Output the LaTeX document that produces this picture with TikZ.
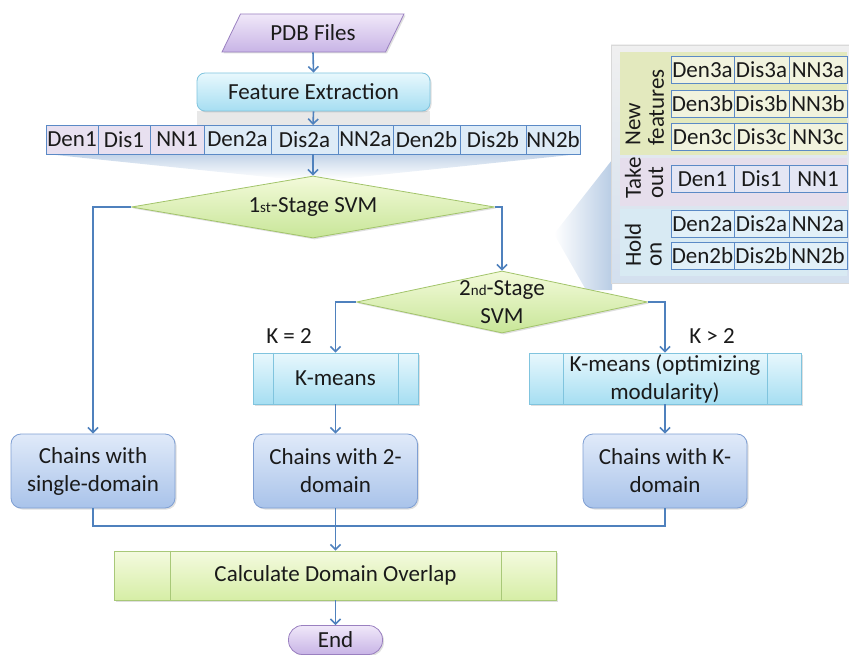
\documentclass[tikz,border=0pt]{standalone}
\usepackage{fontspec}
\setmainfont{Carlito}
\usetikzlibrary{shapes.geometric,arrows.meta,calc,shadows}
\definecolor{arrowc}{HTML}{4F81BD}
\definecolor{cellb}{HTML}{5B8AC6}
\definecolor{lavc}{HTML}{E8E0F0}
\definecolor{lbc}{HTML}{DDEBF7}
\definecolor{chtop}{HTML}{E0EAF9}
\definecolor{chbot}{HTML}{A9C3EA}
\definecolor{chbd}{HTML}{7F9FD3}
\definecolor{cytop}{HTML}{E8F8FD}
\definecolor{cybot}{HTML}{A6DEF2}
\definecolor{cybd}{HTML}{80C4DE}
\definecolor{grtop}{HTML}{F3FADA}
\definecolor{grbot}{HTML}{C8E698}
\definecolor{grbd}{HTML}{A2C46A}
\definecolor{catop}{HTML}{F4FADF}
\definecolor{cabot}{HTML}{D6EEA6}
\definecolor{cabd}{HTML}{A8C878}
\definecolor{putop}{HTML}{F0E8F9}
\definecolor{pubot}{HTML}{C8B4E6}
\definecolor{pubd}{HTML}{9A80C0}
\definecolor{txt}{HTML}{1A1A1A}
\definecolor{nfsec}{HTML}{E3E9BE}
\definecolor{tosec}{HTML}{E6DEEC}
\definecolor{hosec}{HTML}{D8EAF3}
\definecolor{nfcell}{HTML}{F1F3DE}
\definecolor{tocell}{HTML}{E4E6F4}
\definecolor{hocell}{HTML}{E2F0F8}
\newcommand\ordsuf[1]{{\fontsize{15}{15}\selectfont #1}}
\begin{document}
\begin{tikzpicture}[x=1pt,y=-1pt,
  font=\fontsize{23}{28}\selectfont, text=txt,
  shd/.style={drop shadow={shadow xshift=1.5pt,shadow yshift=-1.5pt,opacity=0.25}},
  flow/.style={draw=arrowc,line width=1.6pt,-{Straight Barb[length=5pt,width=10pt]}},
  link/.style={draw=arrowc,line width=1.6pt},
  chainbox/.style={draw=chbd,line width=0.8pt,rounded corners=10pt,top color=chtop,bottom color=chbot,
    minimum width=164pt,minimum height=74pt,align=center,inner sep=0pt,shd},
  procbox/.style={draw=cybd,line width=0.8pt,top color=cytop,bottom color=cybot,
    minimum height=51pt,align=center,inner sep=0pt,shd},
  decision/.style={diamond,draw=grbd,line width=0.8pt,top color=grtop,bottom color=grbot,inner sep=0pt,shd},
  rowcell/.style={draw=cellb,line width=0.8pt,minimum height=29pt,inner sep=0pt},
  pcell/.style={draw=cellb,line width=0.8pt,minimum height=27pt,inner sep=0pt},
  vlabel/.style={rotate=90,anchor=west,inner sep=0pt}
]
\useasboundingbox (0,0) rectangle (849,655);

% shading effects
\fill[gray!18] (197,111) rectangle (430,125);
\shade[top color=arrowc!35,bottom color=white] (46,154) -- (580,154) -- (340,179) -- (287,179) -- cycle;
\shade[left color=white,right color=arrowc!40] (554,234) -- (612,160) -- (612,290) -- (586,290) -- cycle;

% PDB Files
\node[trapezium,trapezium left angle=56,trapezium right angle=124,trapezium stretches=true,
  minimum width=182pt,minimum height=38pt,draw=pubd,line width=0.8pt,top color=putop,bottom color=pubot,inner sep=0pt,shd]
  (pdb) at (313,33) {PDB Files};

% Feature Extraction
\node[draw=cybd,line width=0.8pt,rounded corners=8pt,top color=cytop,bottom color=cybot,
  minimum width=233pt,minimum height=38pt,inner sep=0pt,shd] (fe) at (313.5,92) {Feature Extraction};

% Feature row
\node[rowcell,fill=lavc,minimum width=52pt] (r1) at (72,139.5) {Den1};
\node[rowcell,fill=lavc,minimum width=52pt] (r2) at (124,139.5) {Dis1};
\node[rowcell,fill=lavc,minimum width=54pt] (r3) at (177,139.5) {NN1};
\node[rowcell,fill=lbc,minimum width=67pt] (r4) at (237.5,139.5) {Den2a};
\node[rowcell,fill=lbc,minimum width=67pt] (r5) at (304.5,139.5) {Dis2a};
\node[rowcell,fill=lbc,minimum width=55pt] (r6) at (365.5,139.5) {NN2a};
\node[rowcell,fill=lbc,minimum width=67pt] (r7) at (426.5,139.5) {Den2b};
\node[rowcell,fill=lbc,minimum width=66pt] (r8) at (493,139.5) {Dis2b};
\node[rowcell,fill=lbc,minimum width=54pt] (r9) at (553,139.5) {NN2b};
\coordinate (rowtop) at (313,125);
\coordinate (rowbot) at (313,154);

% Decisions
\node[decision,minimum width=363pt,minimum height=62pt,
  label={center:1\ordsuf{st}-Stage SVM}] (d1) at (313,207) {};
\node[decision,minimum width=291pt,minimum height=62pt,
  label={[align=center]center:2\ordsuf{nd}-Stage\\SVM}] (d2) at (502,302) {};

% K-means boxes
\node[procbox,minimum width=165pt] (km) at (335.5,378.5) {K-means};
\node[procbox,minimum width=272pt] (kmo) at (665,378.5) {K-means (optimizing\\modularity)};
\draw[cybd,line width=0.8pt] ($(km.north west)+(21,0)$) -- ($(km.south west)+(21,0)$)
  ($(km.north east)+(-20,0)$) -- ($(km.south east)+(-20,0)$);
\draw[cybd,line width=0.8pt] ($(kmo.north west)+(35,0)$) -- ($(kmo.south west)+(35,0)$)
  ($(kmo.north east)+(-34,0)$) -- ($(kmo.south east)+(-34,0)$);

\node (k2) at (289,336) {K = 2};
\node (kg2) at (712,336) {K > 2};

% Chains
\node[chainbox] (cs) at (93,471) {Chains with\\single-domain};
\node[chainbox] (c2) at (335.5,471) {Chains with 2-\\domain};
\node[chainbox] (ck) at (665,471) {Chains with K-\\domain};

% Calculate
\node[draw=cabd,line width=0.8pt,top color=catop,bottom color=cabot,minimum width=442pt,minimum height=49pt,inner sep=0pt,shd]
  (calc) at (335.5,575.5) {Calculate Domain Overlap};
\draw[cabd,line width=0.8pt] ($(calc.north west)+(56,0)$) -- ($(calc.south west)+(56,0)$)
  ($(calc.north east)+(-56,0)$) -- ($(calc.south east)+(-56,0)$);

% End
\node[draw=pubd,line width=0.8pt,rounded corners=14pt,top color=putop,bottom color=pubot,
  minimum width=94pt,minimum height=29pt,inner sep=0pt,shd] (end) at (335.5,640) {End};

% connectors
\draw[flow] (pdb.south) -- (fe.north);
\draw[flow] (fe.south) -- (rowtop);
\draw[flow] (rowbot) -- (d1.north);
\draw[flow] (d1.west) -| (cs.north);
\draw[flow] (d1.east) -| (d2.north);
\draw[flow] (d2.west) -| (km.north);
\draw[flow] (d2.east) -| (kmo.north);
\draw[flow] (km.south) -- (c2.north);
\draw[flow] (kmo.south) -- (ck.north);
\coordinate (merge) at (335.5,526);
\draw[link] (cs.south) |- (merge);
\draw[link] (ck.south) |- (merge);
\draw[flow] (c2.south) -- (calc.north);
\draw[flow] (calc.south) -- (end.north);

% Right panel
\shade[top color=gray!12,bottom color=arrowc!25,draw=gray!30] (611,45) rectangle (849,283);
\fill[nfsec] (620,52) rectangle (847,155);
\fill[tosec] (620,158) rectangle (847,206);
\fill[hosec] (620,209) rectangle (847,276);
\node[vlabel] (lnew) at (633,146) {New};
\node[vlabel] (lfeat) at (656,146) {features};
\node[vlabel] (ltake) at (633,199) {Take};
\node[vlabel] (lout) at (656,199) {out};
\node[vlabel] (lhold) at (633,267) {Hold};
\node[vlabel] (lon) at (656,267) {on};

\node[pcell,fill=nfcell,minimum width=63pt] (p1a) at (702.5,70) {Den3a};
\node[pcell,fill=nfcell,minimum width=55pt] (p1b) at (761.5,70) {Dis3a};
\node[pcell,fill=nfcell,minimum width=58pt] (p1c) at (818,70) {NN3a};
\node[pcell,fill=nfcell,minimum width=63pt] (p2a) at (702.5,103.5) {Den3b};
\node[pcell,fill=nfcell,minimum width=55pt] (p2b) at (761.5,103.5) {Dis3b};
\node[pcell,fill=nfcell,minimum width=58pt] (p2c) at (818,103.5) {NN3b};
\node[pcell,fill=nfcell,minimum width=63pt] (p3a) at (702.5,137) {Den3c};
\node[pcell,fill=nfcell,minimum width=55pt] (p3b) at (761.5,137) {Dis3c};
\node[pcell,fill=nfcell,minimum width=58pt] (p3c) at (818,137) {NN3c};
\node[pcell,fill=tocell,minimum width=63pt] (p4a) at (702.5,179) {Den1};
\node[pcell,fill=tocell,minimum width=55pt] (p4b) at (761.5,179) {Dis1};
\node[pcell,fill=tocell,minimum width=58pt] (p4c) at (818,179) {NN1};
\node[pcell,fill=hocell,minimum width=63pt] (p5a) at (702.5,224) {Den2a};
\node[pcell,fill=hocell,minimum width=55pt] (p5b) at (761.5,224) {Dis2a};
\node[pcell,fill=hocell,minimum width=58pt] (p5c) at (818,224) {NN2a};
\node[pcell,fill=hocell,minimum width=63pt] (p6a) at (702.5,256) {Den2b};
\node[pcell,fill=hocell,minimum width=55pt] (p6b) at (761.5,256) {Dis2b};
\node[pcell,fill=hocell,minimum width=58pt] (p6c) at (818,256) {NN2b};
\end{tikzpicture}
\end{document}
